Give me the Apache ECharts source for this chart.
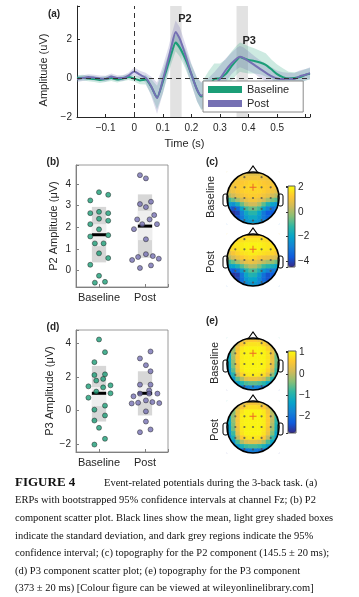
<!DOCTYPE html>
<html><head><meta charset="utf-8">
<script src="https://cdn.jsdelivr.net/npm/echarts@6/dist/echarts.min.js"></script>
<style>html,body{margin:0;padding:0;background:#fff}#c{width:359px;height:597px}</style>
</head><body><div id="c"></div>
<script>
// ---------------- DATA ----------------
const times = [-0.2,-0.18,-0.16,-0.14,-0.12,-0.1,-0.08,-0.06,-0.04,-0.02,0,0.02,0.04,0.06,0.08,0.1,0.12,0.13,0.145,0.16,0.18,0.2,0.22,0.235,0.26,0.28,0.3,0.32,0.34,0.36,0.37,0.38,0.4,0.42,0.44,0.46,0.48,0.5,0.52,0.54,0.56,0.58,0.6,0.615];
const baseErp = [0,0.02,-0.02,-0.05,-0.1,-0.05,0,-0.08,-0.02,0.05,-0.03,-0.12,-0.08,-0.46,-1.0,-0.2,0.75,1.25,1.82,1.55,0.95,0.2,-0.6,-0.95,-0.5,-0.05,0,0.2,0.6,0.95,1.08,1.03,0.93,0.88,0.8,0.68,0.45,0.2,0.05,-0.02,0,0.05,0.17,0.22];
const postErp = [-0.05,0,0.05,0.02,-0.02,-0.03,0.08,0,0,0.12,0.34,0.17,0.02,-0.43,-1.03,-0.1,1.0,1.6,2.36,2.0,1.15,0.2,-0.6,-0.9,-0.7,-0.4,-0.05,0.4,0.75,1.02,1.1,1.05,0.87,0.68,0.47,0.28,0.1,-0.02,-0.05,-0.03,-0.05,0.1,0.17,0.25];
const baseCI = [0.15,0.15,0.15,0.15,0.15,0.15,0.15,0.15,0.15,0.15,0.15,0.2,0.25,0.4,0.6,0.6,0.5,0.5,0.45,0.45,0.5,0.5,0.6,0.7,0.85,0.8,0.75,0.75,0.75,0.75,0.75,0.75,0.7,0.65,0.6,0.6,0.5,0.5,0.45,0.35,0.3,0.3,0.3,0.3];
const postCI = [0.15,0.15,0.15,0.15,0.15,0.15,0.15,0.15,0.15,0.15,0.2,0.2,0.25,0.5,0.8,0.7,0.6,0.6,0.6,0.6,0.55,0.55,0.6,0.7,0.7,0.7,0.7,0.6,0.55,0.55,0.55,0.55,0.5,0.45,0.45,0.45,0.45,0.4,0.35,0.3,0.3,0.3,0.3,0.3];
const p2Window = [0.126, 0.166];
const p3Window = [0.358, 0.398];
const groups = ['Baseline', 'Post'];

// P2 scatter (x = jittered group position, y = amplitude)
const p2BaseX = [1.0,1.2,0.81,0.81,1.0,1.2,1.0,1.2,0.81,1.0,1.2,0.81,0.91,1.1,1.0,1.2,0.81,1.0,0.91,1.13];
const p2BaseY = [3.62,3.50,3.24,2.65,2.71,2.65,2.39,2.30,2.14,1.90,1.63,1.57,1.25,1.25,0.79,0.57,0.26,-0.25,-0.57,-0.53];
const p2PostX = [1.89,2.02,1.89,2.13,2.02,2.2,1.83,2.1,1.94,2.26,1.76,2.02,2.02,1.85,2.17,1.72,2.3,1.89,2.13];
const p2PostY = [4.41,4.26,3.07,3.18,2.93,2.56,2.36,2.36,2.14,2.14,1.91,1.44,0.75,0.62,0.66,0.48,0.54,0.11,0.23];
const p2Mean = [1.65, 2.05];
const p2SdLo = [0.37, 0.58], p2SdHi = [2.94, 3.52];
const p2CiLo = [1.12, 1.40], p2CiHi = [2.14, 2.76];

// P3 scatter
const p3BaseX = [1.0,1.13,0.9,0.9,1.13,0.94,1.09,0.77,1.09,1.25,0.94,1.25,0.77,1.13,0.9,1.13,0.9,1.0,1.13,0.9];
const p3BaseY = [4.21,3.46,2.87,2.11,2.15,1.78,1.88,1.44,1.38,1.50,1.13,1.03,0.77,0.30,0.06,-0.28,-0.58,-1.01,-1.66,-2.00];
const p3PostX = [2.12,1.89,2.02,2.12,1.89,2.12,2.09,1.89,2.09,2.27,1.75,2.02,2.16,1.85,1.71,2.31,2.02,2.02,1.89,2.12];
const p3PostY = [3.50,3.09,2.69,2.33,1.54,1.54,1.20,1.01,1.01,1.01,0.85,0.61,0.51,0.47,0.43,0.45,-0.04,-0.64,-1.27,-1.11];
const p3Mean = [1.03, 1.03];
const p3SdLo = [-0.64, -0.28], p3SdHi = [2.65, 2.33];
const p3CiLo = [0.27, 0.51], p3CiHi = [1.40, 1.54];

// Topographies: 12x12 grids, row 0 = front (nose), col 0 = left
const topoP2Base = [
 [0.7,0.7,0.8,0.8,0.8,0.8,0.8,0.8,0.8,0.8,0.7,0.7],
 [0.9,0.9,1.0,1.1,1.1,1.1,1.1,1.1,1.1,1.0,0.9,0.9],
 [1.0,1.1,1.2,1.3,1.4,1.5,1.5,1.4,1.3,1.2,1.1,1.0],
 [1.1,1.1,1.3,1.4,1.5,1.6,1.6,1.5,1.4,1.3,1.2,1.1],
 [0.8,1.0,1.2,1.4,1.5,1.5,1.5,1.5,1.4,1.2,1.0,0.8],
 [0.2,0.5,0.9,1.1,1.3,1.4,1.4,1.3,1.1,0.9,0.5,0.2],
 [-1.0,-0.6,0.0,0.5,0.9,1.1,1.1,0.9,0.5,0.0,-0.5,-0.8],
 [-2.2,-2.4,-1.6,-0.6,0.2,0.5,0.5,0.1,-0.7,-1.5,-2.0,-2.4],
 [-3.2,-3.8,-3.3,-2.0,-1.0,-0.6,-0.6,-1.0,-2.0,-2.8,-3.2,-3.0],
 [-3.5,-4.3,-4.0,-2.8,-1.8,-1.3,-1.3,-2.0,-3.0,-3.6,-3.6,-3.2],
 [-3.3,-4.0,-3.8,-3.0,-2.2,-1.8,-1.8,-2.3,-3.0,-3.4,-3.4,-3.0],
 [-3.0,-3.4,-3.3,-2.8,-2.4,-2.2,-2.2,-2.4,-2.8,-3.0,-3.0,-2.8]];
const topoP2Post = [
 [1.4,1.4,1.5,1.5,1.5,1.5,1.5,1.5,1.5,1.5,1.4,1.4],
 [1.5,1.5,1.6,1.7,1.8,1.8,1.8,1.8,1.7,1.6,1.5,1.5],
 [1.6,1.7,1.8,1.9,2.0,2.0,2.0,2.0,1.9,1.8,1.7,1.6],
 [1.4,1.6,1.7,1.9,2.0,2.0,2.0,2.0,1.9,1.8,1.7,1.6],
 [0.8,1.2,1.5,1.7,1.8,1.9,1.9,1.8,1.7,1.6,1.5,1.2],
 [0.2,0.6,1.0,1.3,1.5,1.6,1.5,1.3,1.1,1.0,0.8,0.6],
 [-1.0,-0.6,0.0,0.5,0.9,1.0,0.9,0.6,0.3,0.0,-0.2,-0.6],
 [-2.2,-2.0,-1.5,-0.8,-0.2,0.2,0.1,-0.4,-1.0,-1.3,-1.6,-2.0],
 [-3.3,-3.6,-3.2,-2.2,-1.3,-0.8,-0.9,-1.5,-2.3,-2.8,-3.0,-3.0],
 [-3.6,-4.3,-4.1,-3.0,-1.9,-1.4,-1.5,-2.3,-3.2,-3.8,-3.6,-3.3],
 [-3.4,-4.2,-4.0,-3.2,-2.3,-1.9,-2.0,-2.6,-3.3,-3.8,-3.5,-3.2],
 [-3.2,-3.6,-3.5,-3.1,-2.6,-2.3,-2.3,-2.7,-3.1,-3.3,-3.2,-3.0]];
const topoP3Base = [
 [-1.0,-0.8,-0.3,0.2,0.5,0.6,0.6,0.5,0.3,-0.1,-0.5,-0.8],
 [-1.0,-0.5,0.2,0.6,0.8,0.85,0.85,0.85,0.7,0.4,-0.1,-0.6],
 [-1.1,-0.3,0.5,0.9,1.0,1.0,1.0,1.0,0.95,0.7,0.2,-0.5],
 [-1.1,-0.2,0.6,0.95,1.0,1.0,1.0,1.0,1.0,0.85,0.4,-0.4],
 [-1.2,-0.2,0.6,0.95,1.0,1.0,1.0,1.0,1.0,0.85,0.4,-0.5],
 [-1.2,-0.3,0.6,0.95,1.0,1.0,1.0,1.0,1.0,0.85,0.4,-0.5],
 [-1.3,-0.4,0.5,0.95,1.0,1.0,1.0,1.0,1.0,0.8,0.3,-0.6],
 [-1.5,-0.6,0.4,0.9,1.0,1.0,1.0,1.0,0.95,0.7,0.1,-0.8],
 [-1.7,-1.0,0.1,0.7,0.9,0.95,0.95,0.9,0.8,0.4,-0.3,-1.1],
 [-2.0,-1.5,-0.6,-0.1,0.3,0.4,0.4,0.3,0.1,-0.4,-1.0,-1.6],
 [-2.4,-2.0,-1.4,-1.0,-0.7,-0.6,-0.6,-0.7,-0.9,-1.3,-1.8,-2.2],
 [-2.7,-2.6,-2.3,-2.1,-1.9,-1.8,-1.8,-1.9,-2.0,-2.2,-2.5,-2.6]];
const topoP3Post = [
 [-1.0,-0.8,-0.4,0.1,0.4,0.5,0.5,0.4,0.1,-0.3,-0.7,-1.0],
 [-1.0,-0.6,0.1,0.5,0.75,0.8,0.8,0.75,0.6,0.2,-0.3,-0.8],
 [-1.1,-0.4,0.4,0.85,1.0,1.0,1.0,1.0,0.9,0.5,-0.1,-0.8],
 [-1.1,-0.3,0.5,0.95,1.0,1.0,1.0,1.0,0.95,0.6,0.0,-0.8],
 [-1.2,-0.3,0.5,0.95,1.0,1.0,1.0,1.0,0.95,0.6,0.0,-0.9],
 [-1.3,-0.4,0.5,0.95,1.0,1.0,1.0,1.0,0.95,0.6,-0.1,-1.0],
 [-1.4,-0.5,0.4,0.9,1.0,1.0,1.0,1.0,0.9,0.5,-0.2,-1.1],
 [-1.6,-0.8,0.3,0.85,1.0,1.0,1.0,1.0,0.85,0.4,-0.4,-1.3],
 [-1.8,-1.1,0.0,0.6,0.85,0.9,0.9,0.85,0.6,0.0,-0.8,-1.5],
 [-2.1,-1.6,-0.7,-0.1,0.2,0.3,0.3,0.2,-0.1,-0.7,-1.3,-1.8],
 [-2.4,-2.1,-1.5,-1.1,-0.8,-0.7,-0.7,-0.8,-1.1,-1.5,-2.0,-2.3],
 [-2.7,-2.6,-2.4,-2.2,-2.0,-1.9,-1.9,-2.0,-2.2,-2.4,-2.6,-2.7]];
const p2Range = [-4.47, 2.14];
const p3Range = [-2.81, 1.08];
// electrode positions (normalized head coordinates, y down = posterior)
const elecX = [-0.33,0.33,-0.68,-0.33,0.33,0.68,-0.68,-0.33,0,0.33,0.68,-0.68,-0.33,0,0.33,0.68,-0.33,0,0.33];
const elecY = [-0.8,-0.8,-0.41,-0.41,-0.41,-0.41,0,0,0,0,0,0.42,0.42,0.42,0.42,0.42,0.85,0.87,0.85];
const fzPos = [0, -0.41];

const caption = [
 'ERPs with bootstrapped 95% confidence intervals at channel Fz; (b) P2',
 'component scatter plot. Black lines show the mean, light grey shaded boxes',
 'indicate the standard deviation, and dark grey regions indicate the 95%',
 'confidence interval; (c) topography for the P2 component (145.5 \u00b1 20 ms);',
 '(d) P3 component scatter plot; (e) topography for the P3 component',
 '(373 \u00b1 20 ms) [Colour figure can be viewed at wileyonlinelibrary.com]'];

// ---------------- STYLE / LAYOUT ----------------
const GREEN = '#1b9e77', PURPLE = '#7570b3';
const FONT = 'Liberation Sans, Arial, Helvetica, sans-serif';
const SERIF = 'Liberation Serif, Times New Roman, serif';
const TXT = '#262626';
const parula = ['#352a87','#0f5cdd','#1481d6','#06a4ca','#2eb7a4','#87bf77','#d1bb59','#fec832','#f9fb0e'];
const R = 26;
const heads = [[253, 198], [253, 260], [253, 364], [253, 427]];
const topos = [topoP2Base, topoP2Post, topoP3Base, topoP3Post];
const cbars = [{left:288, top:186, w:7, h:81, range:p2Range, step:2}, {left:288, top:351, w:8, h:82, range:p3Range, step:1}];

const minus = s => s.replace('-', '\u2212');
const stepFmt = (step, lo, hi) => v => {
  if (lo !== undefined && (v < lo - 1e-9 || v > hi + 1e-9)) return '';
  const r = Math.round(v / step) * step;
  if (Math.abs(v - r) > 1e-6) return '';
  return minus(String(Math.round(r * 10) / 10));
};
const axisCol = '#262626';
const boxCol = '#808080';

const grids = [
  {left:77, top:6, width:233, height:111},
  {left:76, top:165, width:92, height:122, show:true, borderColor:boxCol, borderWidth:0.8},
  {left:76, top:330, width:92, height:122, show:true, borderColor:boxCol, borderWidth:0.8}
];
heads.forEach(h => grids.push({left:h[0]-R, top:h[1]-R, width:2*R, height:2*R}));
cbars.forEach(c => grids.push({left:c.left, top:c.top, width:c.w, height:c.h, show:true, borderColor:'#333', borderWidth:0.8, z:10}));

const xAxes = [
  {gridIndex:0, type:'value', min:-0.2, max:0.615, interval:0.1,
   axisLine:{onZero:false, lineStyle:{color:axisCol}}, axisTick:{inside:true, length:3, lineStyle:{color:axisCol}},
   axisLabel:{fontSize:10, fontFamily:FONT, color:TXT, margin:6, formatter:stepFmt(0.1, -0.1, 0.5)}, splitLine:{show:false},
   name:'Time (s)', nameLocation:'middle', nameGap:21, nameTextStyle:{fontSize:11, fontFamily:FONT, color:TXT, padding:[0,18,0,0]}},
];
const yAxes = [
  {gridIndex:0, type:'value', min:-2, max:3.7, interval:2,
   axisLine:{show:true, onZero:false, lineStyle:{color:axisCol}}, axisTick:{show:true, inside:true, length:3, lineStyle:{color:axisCol}},
   axisLabel:{fontSize:10, fontFamily:FONT, color:TXT, margin:5, formatter:stepFmt(2)}, splitLine:{show:false},
   name:'Amplitude (uV)', nameLocation:'middle', nameGap:15, nameTextStyle:{fontSize:11, fontFamily:FONT, color:TXT, padding:[0,17,0,0]}},
];
[[1,-0.77,4.88,'P2 Amplitude (\u03bcV)'],[2,-2.44,4.77,'P3 Amplitude (\u03bcV)']].forEach(([g,lo,hi,nm]) => {
  xAxes.push({gridIndex:g, type:'value', min:0.5, max:2.5, minInterval:1, maxInterval:1,
    axisLine:{onZero:false, lineStyle:{color:boxCol}}, axisTick:{inside:true, length:3, lineStyle:{color:boxCol}},
    axisLabel:{fontSize:11, fontFamily:FONT, color:TXT, margin:5, formatter:v => (Math.abs(v-Math.round(v))<1e-6 && groups[v-1]) ? groups[v-1] : ''},
    splitLine:{show:false}});
  const isP2 = g === 1;
  yAxes.push({gridIndex:g, type:'value', min:lo, max:hi, minInterval:isP2?1:2, maxInterval:isP2?1:2,
    axisLine:{show:true, onZero:false, lineStyle:{color:boxCol}}, axisTick:{show:true, inside:true, length:3, lineStyle:{color:boxCol}},
    axisLabel:{fontSize:10, fontFamily:FONT, color:TXT, margin:5, formatter:stepFmt(isP2?1:2)}, splitLine:{show:false},
    name:nm, nameLocation:'middle', nameGap:17, nameTextStyle:{fontSize:11, fontFamily:FONT, color:TXT}});
});
const cats = topoP2Base[0].map((_, i) => String(i));
heads.forEach((h, k) => {
  xAxes.push({gridIndex:3+k, type:'category', data:cats, show:false});
  yAxes.push({gridIndex:3+k, type:'category', data:cats, inverse:true, show:false});
});
heads.forEach((h, k) => {
  xAxes.push({gridIndex:3+k, type:'value', min:-1, max:1, show:false});
  yAxes.push({gridIndex:3+k, type:'value', min:-1, max:1, inverse:true, show:false});
});
cbars.forEach((c, k) => {
  xAxes.push({gridIndex:7+k, type:'value', show:false, min:0, max:1});
  yAxes.push({gridIndex:7+k, type:'value', position:'right', min:c.range[0], max:c.range[1], minInterval:c.step, maxInterval:c.step, z:10,
    axisLine:{show:false}, axisTick:{show:true, inside:true, length:2, lineStyle:{color:'#333'}},
    axisLabel:{fontSize:10, fontFamily:FONT, color:TXT, margin:3, formatter:stepFmt(c.step)}, splitLine:{show:false}});
});

// ---------------- SERIES ----------------
const SM = 0.2;
const series = [];
// P2 / P3 windows + zero lines
series.push({type:'line', name:'windows', xAxisIndex:0, yAxisIndex:0, data:[], z:0, silent:true,
  markArea:{silent:true, itemStyle:{color:'#e2e2e2'},
    label:{show:true, position:'insideTop', fontSize:11, fontWeight:'bold', fontFamily:FONT, color:TXT},
    data:[[{xAxis:p2Window[0], name:'P2', label:{offset:[9,2]}}, {xAxis:p2Window[1]}],
          [{xAxis:p3Window[0], name:'P3', label:{offset:[7,24]}}, {xAxis:p3Window[1]}]]},
  markLine:{silent:true, symbol:['none','none'], label:{show:false}, lineStyle:{type:[5,4], color:'#333', width:1},
    data:[{yAxis:0}, {xAxis:0}]}});
// confidence bands: one polygon each, built from the mean / half-width arrays through the axis scales
function bandRender(m, ci, fill) {
  return (params, api) => {
    if (params.dataIndex !== 0) return null;
    const up = times.map((t, i) => api.coord([t, m[i] + ci[i]]));
    const lo = times.map((t, i) => api.coord([t, m[i] - ci[i]])).reverse();
    return {type:'polygon', shape:{points:up.concat(lo)}, style:{fill}};
  };
}
[[baseErp, baseCI, 'rgba(27,158,119,0.22)'], [postErp, postCI, 'rgba(117,112,179,0.25)']].forEach(([m, ci, fill]) => {
  series.push({type:'custom', xAxisIndex:0, yAxisIndex:0, silent:true, z:1, renderItem:bandRender(m, ci, fill),
    encode:{x:0, y:[1,2]}, data:times.map((t, i) => [t, m[i] - ci[i], m[i] + ci[i]])});
});
series.push({type:'line', name:'Baseline', xAxisIndex:0, yAxisIndex:0, smooth:SM, showSymbol:false, z:3, color:GREEN,
  lineStyle:{width:2, color:GREEN}, data:times.map((t, i) => [t, baseErp[i]])});
series.push({type:'line', name:'Post', xAxisIndex:0, yAxisIndex:0, smooth:SM, showSymbol:false, z:3, color:PURPLE,
  lineStyle:{width:2, color:PURPLE}, data:times.map((t, i) => [t, postErp[i]])});

function boxRender(params, api) {
  const x = api.value(0), hw = 0.155;
  const a = api.coord([x - hw, api.value(2)]), b = api.coord([x + hw, api.value(1)]);
  const c = api.coord([x - hw, api.value(4)]), d = api.coord([x + hw, api.value(3)]);
  const m1 = api.coord([x - hw, api.value(5)]), m2 = api.coord([x + hw, api.value(5)]);
  return {type:'group', children:[
    {type:'rect', shape:{x:a[0], y:a[1], width:b[0]-a[0], height:b[1]-a[1]}, style:{fill:'#d7d7d7'}},
    {type:'rect', shape:{x:c[0], y:c[1], width:d[0]-c[0], height:d[1]-c[1]}, style:{fill:'#eeeeee'}},
    {type:'line', shape:{x1:m1[0], y1:m1[1], x2:m2[0], y2:m2[1]}, style:{stroke:'#000', lineWidth:3}}]};
}
[[1, p2Mean, p2SdLo, p2SdHi, p2CiLo, p2CiHi, p2BaseX, p2BaseY, p2PostX, p2PostY],
 [2, p3Mean, p3SdLo, p3SdHi, p3CiLo, p3CiHi, p3BaseX, p3BaseY, p3PostX, p3PostY]].forEach(([g, mn, sl, sh, cl, chh, bx, by, px, py]) => {
  series.push({type:'custom', xAxisIndex:g, yAxisIndex:g, renderItem:boxRender, silent:true, z:2,
    encode:{x:0, y:[1,2,3,4,5]}, data:groups.map((_, i) => [i + 1, sl[i], sh[i], cl[i], chh[i], mn[i]])});
  const sym = {symbol:'circle', symbolSize:5, z:4, silent:true};
  series.push(Object.assign({type:'scatter', xAxisIndex:g, yAxisIndex:g, itemStyle:{color:GREEN, borderColor:'#1e1e1e', borderWidth:0.6},
    data:bx.map((x, i) => [x, by[i]])}, sym));
  series.push(Object.assign({type:'scatter', xAxisIndex:g, yAxisIndex:g, itemStyle:{color:PURPLE, borderColor:'#1e1e1e', borderWidth:0.6},
    data:px.map((x, i) => [x, py[i]])}, sym));
});
const heatIdx = [];
topos.forEach((grid, k) => {
  const data = [];
  grid.forEach((row, j) => row.forEach((v, i) => data.push([i, j, v])));
  heatIdx.push(series.length);
  series.push({type:'heatmap', xAxisIndex:3+k, yAxisIndex:3+k, data, z:2, silent:true, progressive:0, emphasis:{disabled:true}});
});
const crossPath = 'path://M-1,-0.14H1V0.14H-1Z M-0.14,-1H0.14V1H-0.14Z';
heads.forEach((h, k) => {
  series.push({type:'scatter', xAxisIndex:7+k, yAxisIndex:7+k, z:6, silent:true, symbolSize:2.2,
    itemStyle:{color:'#505050'}, data:elecX.map((x, i) => [x, elecY[i]])});
  series.push({type:'scatter', xAxisIndex:7+k, yAxisIndex:7+k, z:7, silent:true, symbol:crossPath, symbolSize:7,
    itemStyle:{color:'#e8452c'}, data:[fzPos]});
});

// ---------------- GRAPHIC (head outlines, labels, caption) ----------------
const g = [];
heads.forEach(([cx, cy]) => {
  g.push({type:'circle', z:3, silent:true, shape:{cx, cy, r:R + 5.5}, style:{fill:null, stroke:'#fff', lineWidth:11}});
  g.push({type:'polygon', z:4, silent:true, shape:{points:[[cx-5, cy-R+1], [cx, cy-R-6], [cx+5, cy-R+1]]}, style:{fill:'#fff', stroke:'#000', lineWidth:1.1}});
  g.push({type:'rect', z:4, silent:true, shape:{x:cx-R-4, y:cy-4, width:5, height:12, r:2}, style:{fill:'#fff', stroke:'#000', lineWidth:1}});
  g.push({type:'rect', z:4, silent:true, shape:{x:cx+R-1, y:cy-4, width:5, height:12, r:2}, style:{fill:'#fff', stroke:'#000', lineWidth:1}});
  g.push({type:'circle', z:5, silent:true, shape:{cx, cy, r:R}, style:{fill:null, stroke:'#000', lineWidth:1.6}});
});
const txt = (text, x, y, o) => g.push(Object.assign({type:'text', x, y, z:8, silent:true,
  style:Object.assign({text, fontFamily:FONT, fontSize:11, fill:TXT, align:'center', verticalAlign:'middle'}, o && o.style)}, o && o.el));
txt('Baseline', 211, 197, {el:{rotation:Math.PI/2}});
txt('Post', 211, 262, {el:{rotation:Math.PI/2}});
txt('Baseline', 215, 363, {el:{rotation:Math.PI/2}});
txt('Post', 215, 430, {el:{rotation:Math.PI/2}});
[['(a)', 54, 14], ['(b)', 53, 162], ['(c)', 212, 162], ['(d)', 53, 327], ['(e)', 212, 321]].forEach(([t, x, y]) =>
  txt(t, x, y, {style:{fontWeight:'bold', fontSize:10}}));
txt('FIGURE 4', 15, 483, {style:{fontFamily:SERIF, fontWeight:'bold', fontSize:13, align:'left', fill:'#111'}});
txt('Event-related potentials during the 3-back task. (a)', 104, 483, {style:{fontFamily:SERIF, fontSize:10.5, align:'left', fill:'#111'}});
caption.forEach((line, i) => txt(line, 15, 500.6 + i * 17.6, {style:{fontFamily:SERIF, fontSize:10.5, align:'left', fill:'#111'}}));

const option = {
  animation:false,
  backgroundColor:'#fff',
  grid:grids, xAxis:xAxes, yAxis:yAxes, series,
  legend:{data:groups, left:203, top:81, orient:'vertical', icon:'rect', itemWidth:34, itemHeight:7, itemGap:1,
    padding:[2,14,2,5], backgroundColor:'#fff', borderColor:'#8a8a8a', borderWidth:1, selectedMode:false, z:10,
    textStyle:{fontSize:11, fontFamily:FONT, color:TXT, lineHeight:13}},
  visualMap:cbars.map((c, k) => ({type:'continuous', seriesIndex:[heatIdx[2*k], heatIdx[2*k+1]], min:c.range[0], max:c.range[1],
    left:c.left, top:c.top, itemWidth:c.w, itemHeight:c.h, calculable:false, padding:0, orient:'vertical', z:9,
    inRange:{color:parula}, hoverLink:false})),
  graphic:{elements:g}
};
const chart = echarts.init(document.getElementById('c'), null, {renderer:'canvas', width:359, height:597});
chart.setOption(option);
</script></body></html>
